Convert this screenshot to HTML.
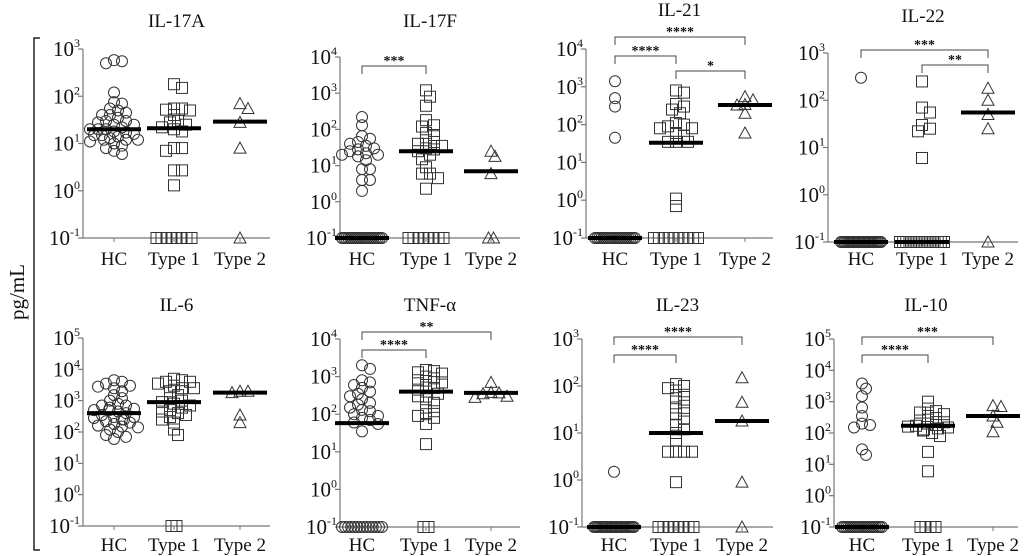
<!DOCTYPE html>
<html><head><meta charset="utf-8"><style>
html,body{margin:0;padding:0;background:#fff}
svg{display:block}
text{font-family:"Liberation Serif",serif;fill:#111}
</style></head><body>
<svg id="chart" width="1026" height="556" viewBox="0 0 1026 556" xmlns="http://www.w3.org/2000/svg">
<text x="0" y="0" transform="translate(24,292) rotate(-90)" text-anchor="middle" font-size="21">pg/mL</text>
<path d="M40,38 H34 V550 H40" fill="none" stroke="#222" stroke-width="1.5"/>
</svg>
<script>
const titles = ["IL-17A","IL-17F","IL-21","IL-22","IL-6","TNF-\u03b1","IL-23","IL-10"];
const categories = ["HC","Type 1","Type 2"];
const topExponent = [3,4,4,3,5,4,3,5];
const z = n => Array(n).fill(0.1);
const hcValues = [
  [550,500,580,120,75,70,55,50,45,40,35,30,28,25,22,20,20,18,17,16,15,14,13,12,12,11,10,9,8,7,6,30,25,20,15,40,12],
  [220,130,65,55,45,40,35,30,28,25,22,20,20,18,14,8,8,4,4,2].concat(z(20)),
  [1400,500,300,45].concat(z(20)),
  [300].concat(z(25)),
  [4500,3500,2800,2500,2000,1500,1200,1000,800,700,600,550,500,450,400,350,300,280,250,220,200,180,160,150,140,120,100,80,70,60,4000,3000,700,500,300,250],
  [2000,1600,800,700,600,500,400,350,300,250,200,180,150,130,120,100,90,80,70,60,55,35].concat(z(14)),
  [1.5].concat(z(25)),
  [3800,2600,1500,650,350,200,180,150,30,20].concat(z(20))
];
const type1Values = [
  [180,150,55,55,52,50,40,30,28,25,22,20,18,8,8,7,2.7,2.7,1.3].concat(z(8)),
  [1200,800,450,180,130,120,80,70,50,45,40,35,30,28,25,20,15,9,6,6,4.5,2.3].concat(z(8)),
  [800,700,350,300,250,200,110,100,90,80,80,60,50,35,35,35,1.1,0.7].concat(z(10)),
  [250,70,55,30,22,25,6].concat(z(15)),
  [5000,4500,4000,3500,3000,2500,2000,1500,1200,1000,900,800,700,600,500,450,400,350,300,250,200,120,80,4000,2500,0.1,0.1],
  [1500,1400,1300,1200,1000,900,800,700,600,500,450,400,350,300,250,200,150,120,100,90,80,55,16,0.1,0.1],
  [110,100,90,80,65,55,45,35,30,25,20,15,12,10,7,4,4,4,4,0.9].concat(z(8)),
  [1000,600,500,450,400,350,300,250,220,200,180,170,160,150,140,130,120,100,80,25,6].concat(z(4))
];
const type2Values = [
  [70,55,28,8,0.1],
  [18,25,6,0.1,0.1],
  [550,450,340,200,60,330],
  [180,100,50,25,0.1],
  [2000,1800,2000,350,200],
  [700,380,350,300,280,370],
  [150,45,18,0.9,0.1],
  [700,750,350,220,110]
];
const hcMedian = [20,0.1,0.1,0.1,400,58,0.1,0.1];
const type1Median = [21,25,33,0.1,900,400,10,170];
const type2Median = [29,7,330,55,1800,370,18,350];
const sigPanel = [1,2,2,2,3,3,5,5,6,6,7,7];
const sigFrom  = [0,0,0,1,0,1,0,0,0,0,0,0];
const sigTo    = [1,2,1,2,2,2,2,1,2,1,2,1];
const sigLabel = ["***","****","****","*","***","**","**","****","****","****","***","****"];

const geom = [
  {ax:83,yt:49,yb:238,cx:[114,174,240],end:270,ty:27,ly:265,sig:[]},
  {ax:340,yt:57,yb:238,cx:[362,426,491],end:520,ty:27,ly:265,sig:[66]},
  {ax:586,yt:49,yb:238,cx:[615,676,745],end:773,ty:16,ly:265,sig:[37,56,71]},
  {ax:828,yt:53,yb:242,cx:[861,922,988],end:1018,ty:22,ly:265,sig:[50,65]},
  {ax:83,yt:338,yb:526,cx:[114,174,240],end:270,ty:311,ly:551,sig:[]},
  {ax:340,yt:339,yb:527,cx:[362,426,491],end:520,ty:311,ly:551,sig:[332,350]},
  {ax:582,yt:339,yb:527,cx:[614,676,742],end:773,ty:311,ly:551,sig:[337,355]},
  {ax:834,yt:339,yb:527,cx:[862,928,993],end:1018,ty:311,ly:551,sig:[337,355]}
];
const NS="http://www.w3.org/2000/svg";
const svg=document.getElementById('chart');
function mk(tag,attrs,parent){const e=document.createElementNS(NS,tag);for(const k in attrs)e.setAttribute(k,attrs[k]);(parent||svg).appendChild(e);return e;}

function drawPanel(p){
  const g=geom[p];
  const top=topExponent[p];
  const span=top+1;
  const yScale=v=>g.yb-(Math.log10(Math.max(v,0.1))+1)/span*(g.yb-g.yt);
  const grp=mk('g',{});
  
  
  const t=mk('text',{x:(g.ax+g.end)/2,y:g.ty,'text-anchor':'middle','font-size':19},grp);
  t.textContent=titles[p];
  
  
  const ya=mk('line',{x1:g.ax,x2:g.ax,y1:g.yt,y2:g.yb,stroke:'#777','stroke-width':1.2},grp);
  
  
  const xa=mk('line',{x1:g.ax,x2:g.end,y1:g.yb,y2:g.yb,stroke:'#777','stroke-width':1.2},grp);
  
  
  for(let e=-1;e<=top;e++){
    const y=yScale(Math.pow(10,e));
    mk('line',{x1:g.ax-5,x2:g.ax,y1:y,y2:y,stroke:'#777','stroke-width':1.2},grp);
    const lb=mk('text',{x:g.ax-3,y:y+7,'text-anchor':'end','font-size':21},grp);
    
    
    const a=mk('tspan',{},lb);a.textContent='10';
    const b=mk('tspan',{dy:-9,'font-size':12},lb);b.textContent=String(e);
  }
  const sets=[hcValues[p],type1Values[p],type2Values[p]];
  const meds=[hcMedian[p],type1Median[p],type2Median[p]];
  categories.forEach((c,ci)=>{
    const cx=g.cx[ci];
    mk('line',{x1:cx,x2:cx,y1:g.yb,y2:g.yb+4,stroke:'#777','stroke-width':1},grp);
    const cl=mk('text',{x:cx,y:g.ly,'text-anchor':'middle','font-size':19},grp);
    cl.textContent=c;
    
    
    const vals=sets[ci].slice().sort((a,b)=>b-a);
    const floorVals=vals.filter(v=>v<=0.1);
    const above=vals.filter(v=>v>0.1);
    const placed=[];
    above.forEach(v=>{
      const y=yScale(v);
      let x=null;
      for(let k=0;k<=12;k++){
        const off=(k%2?1:-1)*Math.ceil(k/2)*4;
        const tx=cx+off;
        if(placed.every(q=>Math.hypot(q[0]-tx,q[1]-y)>6.5)){x=tx;break;}
      }
      if(x===null){x=cx+((placed.length%5)-2)*5;}
      placed.push([x,y]);
    });
    const n=floorVals.length;
    const step=n>1?Math.min(ci===0?3.2:5,(ci===0?40:44)/(n-1)):0;
    floorVals.forEach((v,i)=>{
      placed.push([cx+(i-(n-1)/2)*step,yScale(v)]);
    });
    placed.forEach(([x,y])=>{
      let m;
      if(ci===0) m=mk('circle',{cx:x,cy:y,r:5.5,fill:'none',stroke:'#333','stroke-width':1},grp);
      else if(ci===1) m=mk('rect',{x:x-5.5,y:y-5.5,width:11,height:11,fill:'none',stroke:'#333','stroke-width':1},grp);
      else m=mk('path',{d:`M${x},${y-6} L${x+6},${y+5} L${x-6},${y+5} Z`,fill:'none',stroke:'#333','stroke-width':1},grp);
      
      
    });
    const my=yScale(meds[ci]);
    const ml=mk('line',{x1:cx-27,x2:cx+27,y1:my,y2:my,stroke:'#000','stroke-width':4},grp);
    
    
  });
  let lvl=0;
  sigPanel.forEach((sp,i)=>{
    if(sp!==p) return;
    const y=g.sig[lvl++];
    const x1=g.cx[sigFrom[i]],x2=g.cx[sigTo[i]];
    const br=mk('path',{d:`M${x1},${y+8} V${y} H${x2} V${y+8}`,fill:'none',stroke:'#444','stroke-width':1},grp);
    
    
    const st=mk('text',{x:(x1+x2)/2,y:y-1,'text-anchor':'middle','font-size':14,'font-family':'Liberation Sans, sans-serif','font-weight':'bold'},grp);
    st.textContent=sigLabel[i];
    
    
  });
}
for(let p=0;p<8;p++) drawPanel(p);
</script>
</body></html>
